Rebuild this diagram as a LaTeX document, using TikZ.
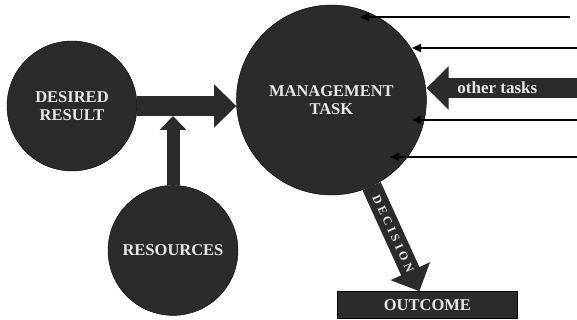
\documentclass[tikz,border=0pt]{standalone}
\usepackage{fontspec}
\setmainfont{Liberation Serif}
\newfontfamily\trackedserif[LetterSpace=29]{Liberation Serif}
\usetikzlibrary{arrows.meta,positioning,calc}
\definecolor{darkfill}{HTML}{2B2B2B}
\definecolor{labelgray}{HTML}{E6E6E6}
\tikzset{
    goal/.style={
        circle,
        draw=black,
        thin,
        fill=darkfill,
        text=labelgray,
        align=center,
        minimum size=130pt,
        font=\bfseries\fontsize{16.5}{18}\selectfont
    },
    task/.style={
        goal,
        minimum size=190pt
    },
    outbox/.style={
        rectangle,
        draw=black,
        thin,
        fill=darkfill,
        text=labelgray,
        minimum width=180pt,
        minimum height=27pt,
        font=\bfseries\fontsize{16.5}{18}\selectfont
    },
    fatarrow/.style={
        draw=darkfill,
        line width=20pt,
        -{Triangle[length=22pt,width=42pt]}
    },
    slimarrow/.style={
        draw=darkfill,
        line width=13pt,
        -{Triangle[length=14pt,width=26pt]}
    },
    thinarrow/.style={
        draw=black,
        line width=2.2pt,
        -{Triangle[length=9pt,width=8pt]}
    },
    arrowtext/.style={
        text=labelgray,
        font=\bfseries\fontsize{17}{18}\selectfont
    }
}

\begin{document}
\begin{tikzpicture}[x=1pt,y=-1pt,node distance=14pt and 99pt]
    \useasboundingbox (0,0) rectangle (577,320);
    \node [goal] (desired) at (72,106) {DESIRED\\RESULT};
    \node [task,yshift=6pt] (mgmt) [right=of desired] {MANAGEMENT\\TASK};
    \node [goal,xshift=101pt] (resources) [below=of desired] {RESOURCES};
    \node [outbox,xshift=96pt] (outcome) [below=96pt of mgmt] {OUTCOME};
    % incoming lines on the right
    \coordinate (in1) at (570,17);
    \coordinate (in2) at (577,48);
    \coordinate (in3) at (577,120);
    \coordinate (in4) at (577,157);
    \coordinate (intasks) at (577,88);
    \coordinate (tip1) at (360,17);
    \coordinate (tip2) at (412,48);
    \coordinate (tip3) at (412,120);
    \coordinate (tip4) at (390,157);
    \draw [fatarrow] (desired.east) -- (desired.east -| mgmt.west);
    \draw [slimarrow] (resources.north) -- ([yshift=-10pt]resources.north |- desired.east);
    \draw [fatarrow] (intasks) -- (intasks -| mgmt.east)
        node[arrowtext,pos=0.53] {other tasks};
    \foreach \i in {1,...,4}
        \draw [thinarrow] (in\i) -- (tip\i);
    \draw [fatarrow] (mgmt.-65) -- ([xshift=-8pt]outcome.north)
        node[sloped,pos=0.45,text=labelgray,font=\trackedserif\bfseries\fontsize{12}{14}\selectfont]
        {DECISION};
\end{tikzpicture}
\end{document}
